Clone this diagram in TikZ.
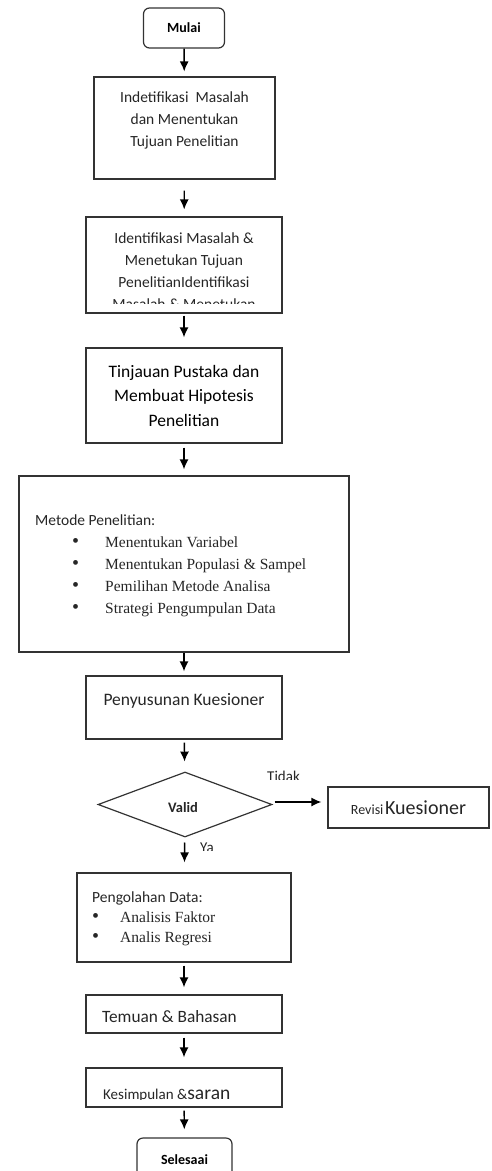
\documentclass[tikz,border=0pt]{standalone}
\usepackage{fontspec}
\setmainfont{Carlito}
\newfontfamily\timesfont{Liberation Serif}
\newcommand{\bul}{{\timesfont\fontsize{20}{22}\selectfont •}}
\usetikzlibrary{shapes.geometric,arrows.meta}

\begin{document}
\begin{tikzpicture}[x=1pt,y=-1pt,
    box/.style={draw=black!80,line width=1.2pt,inner sep=0pt},
    term/.style={box,rounded corners=6pt},
    arr/.style={line width=1.4pt,-{Latex[length=10pt,width=9pt]}},
    lbl/.style={inner sep=0pt,align=center,text=black!85},
  ]
  \clip (0,0) rectangle (491,1171);
  % boxes
  \node[term,minimum width=81,minimum height=40] (mulai) at (184,28)
    {\bfseries\fontsize{14}{16}\selectfont Mulai};
  \node[box,minimum width=181,minimum height=102] (idn) at (184.5,128) {};
  \node[lbl,anchor=north,font=\fontsize{15.5}{22}\selectfont] (idntxt) at (184.5,91.5)
    {Indetifikasi\ \ Masalah\\dan Menentukan\\Tujuan Penelitian};
  \node[box,minimum width=196,minimum height=96] (ident) at (184,265) {};
  \begin{scope}
    \clip (86,217) rectangle (282,303);
    \node[lbl,anchor=north,font=\fontsize{15.5}{22}\selectfont] (identtxt) at (184,232.5)
      {Identifikasi Masalah \&\\Menetukan Tujuan\\PenelitianIdentifikasi\\Masalah \& Menetukan};
  \end{scope}
  \node[box,minimum width=196,minimum height=95,align=center,
    font=\fontsize{17.5}{24.5}\selectfont] (tinjau) at (184,395.5)
    {Tinjauan Pustaka dan\\Membuat Hipotesis\\Penelitian};
  \node[box,minimum width=330,minimum height=176] (metode) at (184,564) {};
  \node[lbl,align=left,anchor=west,font=\fontsize{15.5}{22}\selectfont] (metodetxt) at (35,566)
    {Metode Penelitian:\\
     \hspace*{37pt}\makebox[33pt][l]{\bul}{\timesfont Menentukan Variabel}\\
     \hspace*{37pt}\makebox[33pt][l]{\bul}{\timesfont Menentukan Populasi \& Sampel}\\
     \hspace*{37pt}\makebox[33pt][l]{\bul}{\timesfont Pemilihan Metode Analisa}\\
     \hspace*{37pt}\makebox[33pt][l]{\bul}{\timesfont Strategi Pengumpulan Data}};
  \node[box,minimum width=196,minimum height=63] (susun) at (184,707.5) {};
  \node[lbl,anchor=base,font=\fontsize{17.5}{21}\selectfont] (susuntxt) at (184,705)
    {Penyusunan Kuesioner};
  % decision
  \node[diamond,draw=black!80,line width=1.2pt,minimum width=174,minimum height=65,
    inner sep=0pt] (valid) at (185,804.5) {};
  \begin{scope}
    \clip (150,802) rectangle (220,820);
    \node[lbl,anchor=base,font=\bfseries\fontsize{14.5}{16}\selectfont] (validtxt) at (183,812.5) {Valid};
  \end{scope}
  \begin{scope}
    \clip (260,760) rectangle (320,779.5);
    \node[lbl,anchor=base west,font=\fontsize{15}{18}\selectfont] (tidak) at (267,781.7) {Tidak};
  \end{scope}
  \begin{scope}
    \clip (190,835) rectangle (230,850);
    \node[lbl,anchor=base west,font=\fontsize{15}{18}\selectfont] (ya) at (200,852.7) {Ya};
  \end{scope}
  \node[box,minimum width=161,minimum height=41,text=black!85] (revisi) at (408.5,807.5)
    {{\fontsize{14}{16}\selectfont Revisi}\,{\fontsize{20}{24}\selectfont Kuesioner}};
  \node[box,minimum width=214,minimum height=89] (olah) at (184,917.5) {};
  \node[lbl,align=left,anchor=west,font=\fontsize{15.5}{20}\selectfont] (olahtxt) at (92,919)
    {Pengolahan Data:\\
     \makebox[28pt][l]{\bul}{\timesfont Analisis Faktor}\\
     \makebox[28pt][l]{\bul}{\timesfont Analis Regresi}};
  \node[box,minimum width=196,minimum height=38] (temuan) at (184,1014) {};
  \node[lbl,anchor=base west,font=\fontsize{17.3}{21}\selectfont] (temuantxt) at (102,1022.7)
    {Temuan \& Bahasan};
  \node[box,minimum width=196,minimum height=39] (simpul) at (184,1087.5) {};
  \begin{scope}
    \clip (90,1070) rectangle (280,1099.5);
    \node[lbl,anchor=base west] (simpultxt) at (103,1099)
      {{\fontsize{15}{18}\selectfont Kesimpulan \&}{\fontsize{19.5}{22}\selectfont saran}};
  \end{scope}
  \node[term,minimum width=95,minimum height=44] (selesai) at (184.5,1160)
    {\bfseries\fontsize{14}{16}\selectfont Selesaai};
  % arrows
  \draw[arr,shorten >=5pt] (mulai) -- (idn);
  \draw[arr,shorten <=11pt,shorten >=7pt] (idn) -- (ident);
  \draw[arr,shorten <=2pt,shorten >=10pt] (ident) -- (tinjau);
  \draw[arr,shorten <=4pt,shorten >=6pt] (tinjau) -- (metode);
  \draw[arr,shorten >=4pt] (metode) -- (susun);
  \draw[arr,shorten <=3pt,shorten >=10pt] (susun) -- (valid);
  \draw[arr,shorten <=2pt,shorten >=6pt] ([yshift=2.5pt]valid.east) -- ([yshift=2.5pt]valid.east -| revisi.west);
  \draw[arr,shorten <=5pt,shorten >=10pt] (valid) -- (olah);
  \draw[arr,shorten <=3pt,shorten >=7pt] (olah) -- (temuan);
  \draw[arr,shorten <=4pt,shorten >=10pt] (temuan) -- (simpul);
  \draw[arr,shorten <=3pt,shorten >=8pt] (simpul) -- (selesai);
\end{tikzpicture}
\end{document}
